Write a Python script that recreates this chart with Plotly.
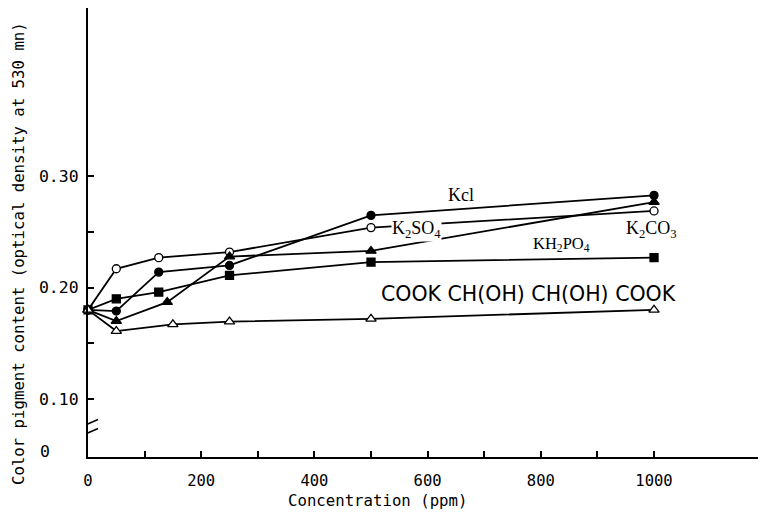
import plotly.graph_objects as go

# ---- data ----
conc = [0, 50, 125, 250, 500, 1000]
kcl = [0.180, 0.179, 0.214, 0.220, 0.265, 0.283]
k2so4 = [0.180, 0.217, 0.227, 0.232, 0.254, 0.269]
kh2po4 = [0.180, 0.190, 0.196, 0.211, 0.223, 0.227]
conc_k2co3 = [0, 50, 140, 250, 500, 1000]
k2co3 = [0.180, 0.170, 0.187, 0.228, 0.233, 0.277]
conc_tart = [0, 50, 150, 250, 500, 1000]
tartrate = [0.180, 0.161, 0.167, 0.1695, 0.172, 0.180]

x_tickvals = [0, 200, 400, 600, 800, 1000]
x_ticktext = ["0", "200", "400", "600", "800", "1000"]
x_minor_ticks = [100, 300, 500, 700, 900]
y_tickvals = [0.10, 0.20, 0.30]
y_ticktext = ["0.10", "0.20", "0.30"]
y_minor_ticks = [0.15, 0.25]
y_zero_label = "0"

series_labels = {
    "Kcl": (659, 0.2837),
    "K<sub>2</sub>SO<sub>4</sub>": (581, 0.2523),
    "K<sub>2</sub>CO<sub>3</sub>": (996, 0.2523),
    "KH<sub>2</sub>PO<sub>4</sub>": (837, 0.2397),
    "COOK CH(OH) CH(OH) COOK": (779, 0.194),
}
label_sizes = [18, 18, 18, 16.5, 20.5]

x_title = "Concentration (ppm)"
y_title = "Color pigment content (optical density at 530 mn)"

MONO = "DejaVu Sans Mono"
SERIF = "Liberation Serif"

fig = go.Figure()

def add(xs, ys, name, symbol, fill, size):
    fig.add_trace(go.Scatter(
        x=xs, y=ys, name=name, mode="lines+markers",
        line=dict(color="black", width=1.8),
        marker=dict(symbol=symbol, size=size, color=fill,
                    line=dict(color="black", width=1.3)),
        showlegend=False, cliponaxis=False,
    ))

add(conc, kcl, "Kcl", "circle", "black", 8)
add(conc, k2so4, "K2SO4", "circle", "white", 8)
add(conc_k2co3, k2co3, "K2CO3", "triangle-up", "black", 9)
add(conc, kh2po4, "KH2PO4", "square", "black", 8)
add(conc_tart, tartrate, "Tartrate", "triangle-up", "white", 9)

for (txt, (xv, yv)), fs in zip(series_labels.items(), label_sizes):
    is_cook = txt.startswith("COOK")
    fig.add_annotation(
        x=xv, y=yv, xref="x", yref="y", text=txt, showarrow=False,
        font=dict(family="DejaVu Sans" if is_cook else SERIF,
                  size=fs, color="black"),
        bgcolor="white" if txt.startswith("K<sub>2</sub>SO") else None,
        borderpad=0,
    )

Y_MIN, Y_MAX = 0.0478, 0.4514
BREAK = 0.0743

# y-axis "0" label at the bottom of the broken axis
fig.add_annotation(x=0, xref="paper", xanchor="left", xshift=-50,
                   y=Y_MIN, yref="y", yanchor="middle", yshift=6,
                   text=y_zero_label, showarrow=False,
                   font=dict(family=MONO, size=16.5, color="black"))

# axis titles
fig.add_annotation(x=512, xref="x", y=0, yref="paper", yanchor="middle",
                   yshift=-43, text=x_title, showarrow=False,
                   font=dict(family=MONO, size=15.7, color="black"))
fig.add_annotation(x=0, xref="paper", xanchor="center", xshift=-70,
                   y=0.452, yref="paper", yanchor="middle",
                   text=y_title, textangle=-90, showarrow=False,
                   font=dict(family=MONO, size=15.7, color="black"))

# axis-break marks
for dy in (8, -1):
    fig.add_shape(type="line", xref="x", yref="y",
                  xsizemode="pixel", ysizemode="pixel",
                  xanchor=0, yanchor=BREAK,
                  x0=-7.5, x1=10, y0=dy - 7.5, y1=dy,
                  line=dict(color="black", width=1.6))

tick_style = dict(ticks="inside", ticklen=6, tickwidth=1.5, tickcolor="black")

# The page body has an 8px default margin, so the figure is sized/offset for it.
fig.update_layout(
    width=758, height=507,
    margin=dict(l=80, r=5, t=0, b=58, autoexpand=False),
    paper_bgcolor="white", plot_bgcolor="white",
    xaxis=dict(range=[0, 1189], tickvals=x_tickvals, ticktext=x_ticktext,
               minor=dict(tickvals=x_minor_ticks, **tick_style),
               showline=True, linewidth=2, linecolor="black", automargin=False,
               showgrid=False, zeroline=False, ticklabelstandoff=8,
               tickfont=dict(family=MONO, size=15.5, color="black"),
               **tick_style),
    yaxis=dict(range=[Y_MIN, Y_MAX], tickvals=y_tickvals, ticktext=y_ticktext,
               minor=dict(tickvals=y_minor_ticks, **tick_style),
               showline=True, linewidth=2, linecolor="black", automargin=False,
               showgrid=False, zeroline=False, ticklabelstandoff=4,
               tickfont=dict(family=MONO, size=16.5, color="black"),
               **tick_style),
)

fig.write_html("out.html")
